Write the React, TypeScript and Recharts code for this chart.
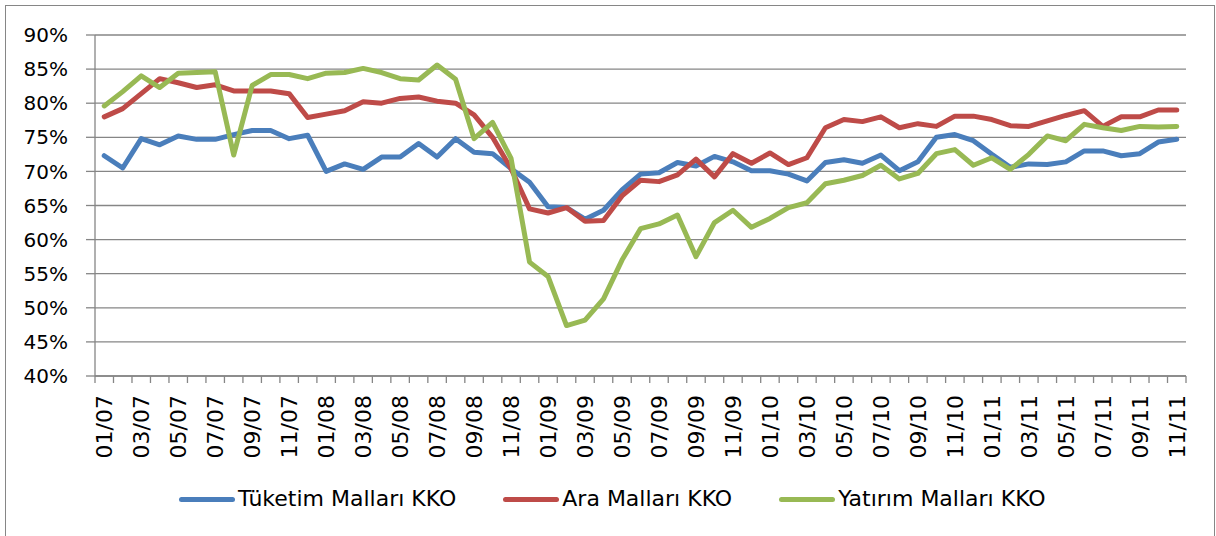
import React from "react";
import { LineChart, Line, XAxis, YAxis, CartesianGrid, Legend } from "recharts";

const months = [
  "01/07", "02/07", "03/07", "04/07", "05/07", "06/07", "07/07", "08/07", "09/07", "10/07", "11/07", "12/07",
  "01/08", "02/08", "03/08", "04/08", "05/08", "06/08", "07/08", "08/08", "09/08", "10/08", "11/08", "12/08",
  "01/09", "02/09", "03/09", "04/09", "05/09", "06/09", "07/09", "08/09", "09/09", "10/09", "11/09", "12/09",
  "01/10", "02/10", "03/10", "04/10", "05/10", "06/10", "07/10", "08/10", "09/10", "10/10", "11/10", "12/10",
  "01/11", "02/11", "03/11", "04/11", "05/11", "06/11", "07/11", "08/11", "09/11", "10/11", "11/11",
];

const tuketim = [
  72.3, 70.5, 74.8, 73.9, 75.2, 74.7, 74.7, 75.4, 76.0, 76.0, 74.8, 75.3,
  70.0, 71.1, 70.3, 72.1, 72.1, 74.1, 72.1, 74.8, 72.8, 72.6, 70.4, 68.4,
  64.8, 64.7, 63.0, 64.3, 67.3, 69.6, 69.8, 71.3, 70.8, 72.2, 71.4, 70.1,
  70.1, 69.6, 68.6, 71.3, 71.7, 71.2, 72.4, 70.1, 71.4, 75.0, 75.4, 74.5,
  72.5, 70.6, 71.1, 71.0, 71.4, 73.0, 73.0, 72.3, 72.6, 74.3, 74.7,
];

const ara = [
  78.0, 79.2, 81.4, 83.6, 83.0, 82.3, 82.7, 81.8, 81.8, 81.8, 81.4, 77.9,
  78.4, 78.9, 80.2, 80.0, 80.7, 80.9, 80.3, 80.0, 78.3, 75.0, 70.4, 64.5,
  63.9, 64.7, 62.7, 62.8, 66.4, 68.7, 68.5, 69.5, 71.8, 69.2, 72.6, 71.2,
  72.7, 71.0, 72.0, 76.4, 77.6, 77.3, 78.0, 76.4, 77.0, 76.6, 78.1, 78.1,
  77.6, 76.7, 76.6, 77.4, 78.2, 78.9, 76.6, 78.0, 78.0, 79.0, 79.0,
];

const yatirim = [
  79.6, 81.7, 84.0, 82.3, 84.4, 84.5, 84.6, 72.4, 82.6, 84.2, 84.2, 83.6,
  84.4, 84.5, 85.1, 84.5, 83.6, 83.4, 85.6, 83.5, 74.8, 77.2, 71.9, 56.7,
  54.6, 47.4, 48.2, 51.3, 57.0, 61.6, 62.3, 63.6, 57.5, 62.5, 64.3, 61.8,
  63.1, 64.7, 65.4, 68.2, 68.7, 69.4, 70.9, 68.9, 69.7, 72.6, 73.2, 70.9,
  72.0, 70.3, 72.5, 75.2, 74.5, 76.9, 76.4, 76.0, 76.6, 76.5, 76.6,
];

const yTicks = [40, 45, 50, 55, 60, 65, 70, 75, 80, 85, 90];
const seriesOrder = ["tuketim", "ara", "yatirim"];

const data = months.map((m, i) => ({
  month: m,
  tuketim: tuketim[i],
  ara: ara[i],
  yatirim: yatirim[i],
}));

const axisGray = "#868686";
const font = "'DejaVu Sans', sans-serif";
// plot is 1091px wide split in 59 bands
const band = 1091 / months.length;

function MonthTick(props: any) {
  const { x, y, index, payload } = props;
  const last = index === months.length - 1;
  return (
    <g>
      <line x1={x - band / 2} y1={y} x2={x - band / 2} y2={y + 7} stroke={axisGray} strokeWidth={1.3} />
      {last && <line x1={x + band / 2} y1={y} x2={x + band / 2} y2={y + 7} stroke={axisGray} strokeWidth={1.3} />}
      {index % 2 === 0 && (
        <g transform={`translate(${x},${y + 19})`}>
          <text transform="rotate(-90)" textAnchor="end" dy="0.36em" fontSize={22} fill="#000" fontFamily={font}>
            {payload.value}
          </text>
        </g>
      )}
    </g>
  );
}

function LegendRow({ payload }: any) {
  // legend sorts by name, put it back in series order
  const items = [...(payload || [])].sort(
    (a: any, b: any) => seriesOrder.indexOf(a.dataKey) - seriesOrder.indexOf(b.dataKey)
  );
  return (
    <div style={{ display: "flex", alignItems: "center", gap: "47px", fontFamily: font }}>
      {items.map((p: any) => (
        <div key={p.value} style={{ display: "flex", alignItems: "center" }}>
          <span style={{ display: "inline-block", width: "56px", height: "5px", borderRadius: "3px", background: p.color, marginRight: "3px" }} />
          <span style={{ fontSize: "22px", color: "#000", lineHeight: "30px" }}>{p.value}</span>
        </div>
      ))}
    </div>
  );
}

export default function App() {
  return (
    <div style={{ position: "relative", width: "1216px", height: "536px", overflow: "hidden", background: "#fff", fontFamily: font }}>
      <style>{`body { margin: 0; }`}</style>
      <div style={{ position: "absolute", left: "5px", top: "5px", width: "1208px", height: "560px", border: `1.5px solid ${axisGray}` }} />
      <div style={{ position: "absolute", left: 0, top: 0 }}>
        <LineChart width={1216} height={536} data={data} margin={{ top: 35, right: 30, left: 0, bottom: 0 }}>
          <CartesianGrid vertical={false} stroke={axisGray} strokeWidth={1.3} />
          <XAxis
            dataKey="month"
            scale="band"
            interval={0}
            height={160}
            tickSize={0}
            tickMargin={0}
            tickLine={false}
            axisLine={{ stroke: axisGray, strokeWidth: 1.3 }}
            tick={<MonthTick />}
          />
          <YAxis
            domain={[40, 90]}
            ticks={yTicks}
            width={95}
            tickSize={9}
            tickMargin={18}
            tickFormatter={(v) => `${v}%`}
            tick={{ fontSize: 20, fill: "#000", fontFamily: font }}
            axisLine={{ stroke: axisGray, strokeWidth: 1.3 }}
            tickLine={{ stroke: axisGray, strokeWidth: 1.3 }}
          />
          <Legend
            layout="horizontal"
            verticalAlign="middle"
            align="center"
            content={<LegendRow />}
            wrapperStyle={{ left: 179, top: 484, width: 1000, height: 30 }}
          />
          <Line type="linear" dataKey="tuketim" name="Tüketim Malları KKO" stroke="#4A7EBB" strokeWidth={5} strokeLinejoin="round" strokeLinecap="round" dot={false} isAnimationActive={false} />
          <Line type="linear" dataKey="ara" name="Ara Malları KKO" stroke="#BE4B48" strokeWidth={5} strokeLinejoin="round" strokeLinecap="round" dot={false} isAnimationActive={false} />
          <Line type="linear" dataKey="yatirim" name="Yatırım Malları KKO" stroke="#98B954" strokeWidth={5} strokeLinejoin="round" strokeLinecap="round" dot={false} isAnimationActive={false} />
        </LineChart>
      </div>
    </div>
  );
}
